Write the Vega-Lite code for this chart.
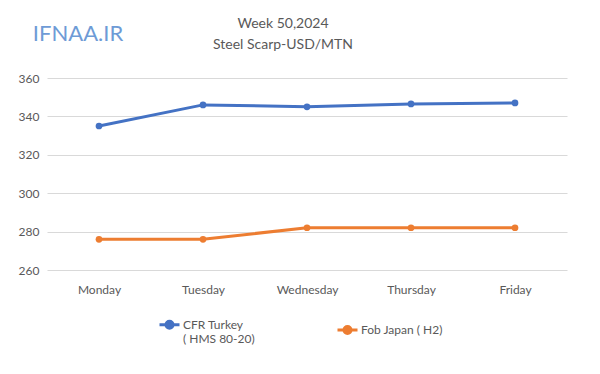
{
  "$schema": "https://vega.github.io/schema/vega-lite/v6.json",
  "autosize": "none",
  "width": 520,
  "height": 192,
  "padding": {"left": 47, "top": 78, "right": 33, "bottom": 104},
  "background": "white",
  "config": {
    "font": "Lato",
    "view": {"stroke": null},
    "axis": {"labelFont": "Lato", "labelFontSize": 12, "labelColor": "#595959", "domain": false, "ticks": false}
  },
  "title": {
    "text": ["Week 50,2024", "Steel Scarp-USD/MTN"],
    "font": "Lato",
    "fontSize": 14,
    "fontWeight": "normal",
    "color": "#595959",
    "lineHeight": 21,
    "anchor": "middle",
    "frame": "group",
    "dx": -24,
    "offset": -29
  },
  "data": {
    "values": [
      {"day": "Monday", "series": "CFR Turkey\n( HMS 80-20)", "price": 335},
      {"day": "Tuesday", "series": "CFR Turkey\n( HMS 80-20)", "price": 346},
      {"day": "Wednesday", "series": "CFR Turkey\n( HMS 80-20)", "price": 345},
      {"day": "Thursday", "series": "CFR Turkey\n( HMS 80-20)", "price": 346.5},
      {"day": "Friday", "series": "CFR Turkey\n( HMS 80-20)", "price": 347},
      {"day": "Monday", "series": "Fob Japan ( H2)", "price": 276},
      {"day": "Tuesday", "series": "Fob Japan ( H2)", "price": 276},
      {"day": "Wednesday", "series": "Fob Japan ( H2)", "price": 282},
      {"day": "Thursday", "series": "Fob Japan ( H2)", "price": 282},
      {"day": "Friday", "series": "Fob Japan ( H2)", "price": 282}
    ]
  },
  "encoding": {
    "x": {
      "field": "day", "type": "ordinal",
      "sort": ["Monday", "Tuesday", "Wednesday", "Thursday", "Friday"],
      "scale": {"paddingInner": 0, "paddingOuter": 0.5},
      "axis": {"title": null, "labelAngle": 0, "labelPadding": 14, "grid": false}
    },
    "y": {
      "field": "price", "type": "quantitative",
      "scale": {"domain": [260, 360], "nice": false, "zero": false},
      "axis": {"title": null, "values": [260, 280, 300, 320, 340, 360], "labelOverlap": false, "gridColor": "#d9d9d9", "gridWidth": 1, "labelPadding": 8}
    }
  },
  "layer": [
    {
      "mark": {"type": "line", "strokeWidth": 3, "point": {"filled": true, "size": 45}},
      "encoding": {
        "color": {
          "field": "series", "type": "nominal", "sort": null,
          "scale": {"range": ["#4472C4", "#ED7D31"]},
          "legend": {
            "title": null,
            "orient": "none",
            "legendX": 111,
            "legendY": 235,
            "direction": "horizontal",
            "columns": 2,
            "columnPadding": 76,
            "labelExpr": "split(datum.label, '\\n')",
            "labelFont": "Lato",
            "labelFontSize": 12,
            "labelColor": "#595959",
            "labelOffset": 2,
            "labelBaseline": "middle",
            "symbolType": "M-1,0H1M-0.35,0A0.35,0.35 0 1,0 0.35,0A0.35,0.35 0 1,0 -0.35,0",
            "symbolSize": 400,
            "symbolStrokeWidth": 3
          }
        }
      }
    },
    {
      "data": {"values": [{"day": "Monday", "price": 383, "label": "IFNAA.IR"}]},
      "mark": {"type": "text", "font": "Lato", "fontSize": 22, "color": "#6E9BD6", "dx": -21, "clip": false},
      "encoding": {
        "text": {"field": "label"}
      }
    }
  ]
}
